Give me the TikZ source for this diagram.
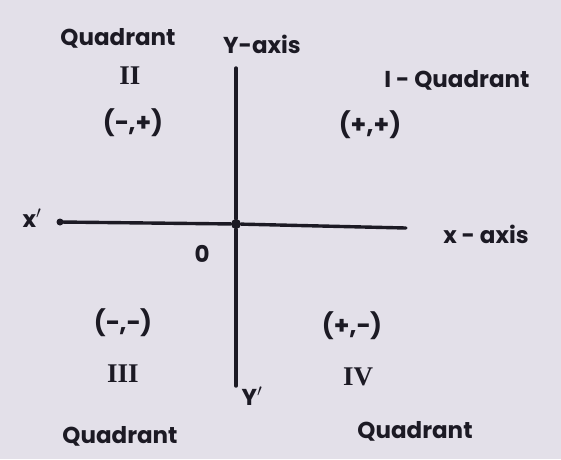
\documentclass[tikz,border=0pt]{standalone}
\usepackage{fontspec}
\setmainfont{Poppins}
\newfontfamily\numfont{Liberation Serif}
\definecolor{bg}{HTML}{E3E0E9}
\definecolor{ink}{HTML}{1C1A24}
\begin{document}
\begin{tikzpicture}[x=1pt,y=-1pt,
  lbl/.style={text=ink,inner sep=0pt,font=\bfseries\fontsize{23}{26}\selectfont},
  sgn/.style={text=ink,inner sep=0pt,font=\bfseries\fontsize{25}{28}\selectfont},
  rom/.style={text=ink,inner sep=0pt,font=\numfont\bfseries\fontsize{27}{30}\selectfont},
  axisline/.style={draw=ink,line width=3.4pt,line cap=round}]
\fill[bg] (0,0) rectangle (561,459);
\useasboundingbox (0,0) rectangle (561,459);
% axes
\coordinate (xl) at (60,222);
\coordinate (xr) at (406,228);
\coordinate (yt) at (236,68);
\coordinate (yb) at (236,386);
\node[circle,fill=ink,minimum size=10pt,inner sep=0pt] (O) at (236,224) {};
\draw[axisline] (xl) -- (O) -- (xr);
\draw[axisline] (yt) -- (O) -- (yb);
\fill[ink] (xl) circle (3.5pt);
% labels
\node[lbl] (q2) at (118,38) {Quadrant};
\node[lbl] (ya) at (262,44) {Y-axis};
\node[rom] (r2) at (130,76) {II};
\node[lbl] (q1) at (457,80) {I - Quadrant};
\node[sgn] (s2) at (133,123) {(−,+)};
\node[sgn] (s1) at (370,125) {(+,+)};
\node[lbl] (xp) at (32,218) {x$'$};
\node[lbl] (zero) at (202,254) {0};
\node[lbl] (xa) at (486,234) {x - axis};
\node[sgn] (s3) at (123,323) {(−,−)};
\node[sgn] (s4) at (352,326) {(+,−)};
\node[rom] (r3) at (123,374) {III};
\node[rom] (r4) at (358,377) {IV};
\node[lbl] (yp) at (252,396) {Y$'$};
\node[lbl] (q3) at (120,436) {Quadrant};
\node[lbl] (q4) at (415,431) {Quadrant};
\end{tikzpicture}
\end{document}
